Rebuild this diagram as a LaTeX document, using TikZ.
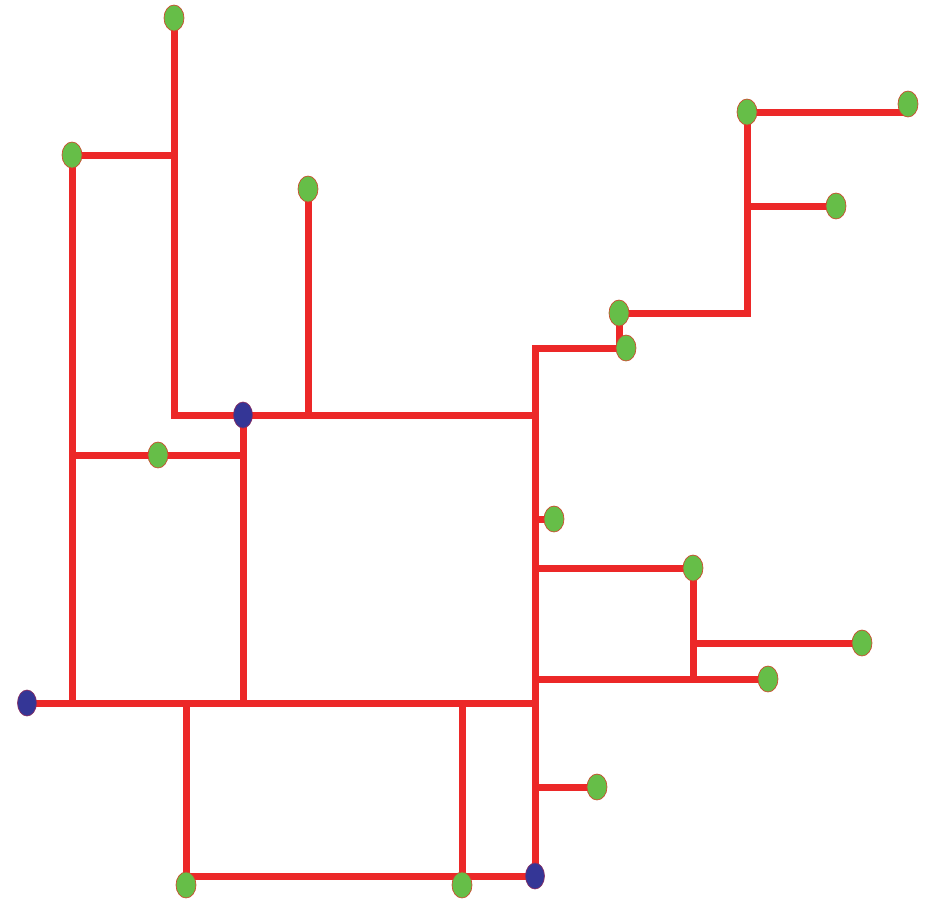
\documentclass[tikz,border=0pt]{standalone}
\usetikzlibrary{shapes.geometric,backgrounds}
\definecolor{wirered}{RGB}{236,40,40}
\definecolor{leafgreen}{RGB}{102,190,72}
\definecolor{hubblue}{RGB}{52,54,150}

\begin{document}
\begin{tikzpicture}[
    x=1pt, y=-1pt,
    wire/.style={draw=wirered, line width=7pt, line join=miter},
    leaf/.style={ellipse, fill=leafgreen, draw=wirered!75!leafgreen, line width=0.7pt,
                 minimum width=20pt, minimum height=26pt, inner sep=0pt},
    hub/.style={leaf, fill=hubblue, draw=wirered!45!hubblue, minimum width=19pt}
  ]
  \useasboundingbox (0,0) rectangle (930,903);

  % end points
  \node[leaf] (t1)  at (174,18)  {};
  \node[leaf] (t2)  at (72,155)  {};
  \node[leaf] (t3)  at (308,189) {};
  \node[leaf] (t4)  at (158,455) {};
  \node[leaf] (t5)  at (747,112) {};
  \node[leaf] (t6)  at (908,104) {};
  \node[leaf] (t7)  at (836,206) {};
  \node[leaf] (t8)  at (619,313) {};
  \node[leaf] (t9)  at (626,348) {};
  \node[leaf] (t10) at (554,519) {};
  \node[leaf] (t11) at (693,568) {};
  \node[leaf] (t12) at (862,643) {};
  \node[leaf] (t13) at (768,679) {};
  \node[leaf] (t14) at (597,787) {};
  \node[leaf] (t15) at (186,885) {};
  \node[leaf] (t16) at (462,885) {};
  % feeders
  \node[hub] (s1) at (243,415) {};
  \node[hub] (s2) at (27,703)  {};
  \node[hub] (s3) at (535,876) {};

  \begin{scope}[on background layer]
    % left part
    \draw[wire] (t1.center) |- (s1.center) -- (s3.center |- s1.center);
    \draw[wire] (t2.center) -- (t1.center |- t2.center);
    \draw[wire] (t2.center) -- (t2.center |- s2.center);
    \draw[wire] (t3.center) -- (t3.center |- s1.center);
    \draw[wire] (t2.center |- t4.center) -- (s1.center |- t4.center);
    \draw[wire] (s1.center) -- (s1.center |- s2.center);
    \draw[wire] (s2.center) -- (s3.center |- s2.center);
    % trunk
    \draw[wire] (t9.center) -| (s3.center);
    % upper right
    \draw[wire] (t8.center) -- (t8.center |- t9.center);
    \draw[wire] (t8.center) -| (t5.center) -- (t6.center |- t5.center);
    \draw[wire] (t5.center |- t7.center) -- (t7.center);
    % lower right
    \draw[wire] (s3.center |- t10.center) -- (t10.center);
    \draw[wire] (s3.center |- t11.center) -- (t11.center) -- (t11.center |- t13.center);
    \draw[wire] (t11.center |- t12.center) -- (t12.center);
    \draw[wire] (s3.center |- t13.center) -- (t13.center);
    \draw[wire] (s3.center |- t14.center) -- (t14.center);
    % bottom loop
    \draw[wire] (t15.center |- s2.center) |- (s3.center);
    \draw[wire] (t16.center |- s2.center) -- (t16.center |- s3.center);
  \end{scope}
\end{tikzpicture}
\end{document}
